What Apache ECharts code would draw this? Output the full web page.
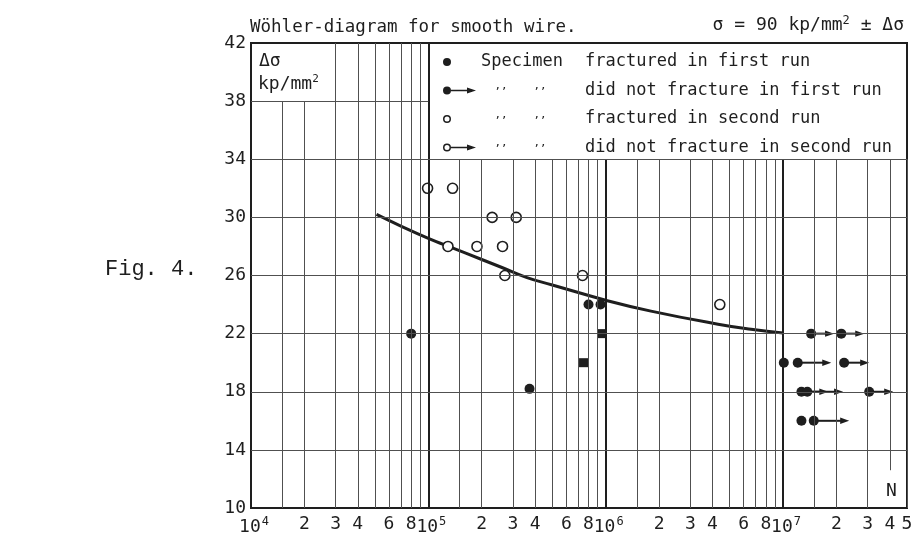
<!DOCTYPE html>
<html>
<head>
<meta charset="utf-8">
<title>Wöhler-diagram</title>
<script src="https://cdn.jsdelivr.net/npm/echarts@6/dist/echarts.min.js"></script>
</head>
<body style="margin:0;background:#fff;">
<div id="container" style="width:917px;height:536px;"></div>
<script type="text/javascript">
// values: N (load cycles), delta sigma (kp/mm2)
var fracturedFirst = [[8.0e4, 22], [3.72e5, 18.2], [8.0e5, 24], [9.35e5, 24]];
var fracturedFirstSq = [[9.5e5, 22], [7.5e5, 20]];
var runoutFirst = [[1.44e7, 22], [2.13e7, 22], [1.01e7, 20], [1.21e7, 20], [2.21e7, 20],
                   [1.27e7, 18], [1.37e7, 18], [3.06e7, 18], [1.27e7, 16], [1.49e7, 16]];
// arrow = [N of specimen, stress, N at arrow tip]
var runoutArrows = [[1.44e7, 22, 1.94e7], [2.13e7, 22, 2.87e7], [1.21e7, 20, 1.87e7], [2.21e7, 20, 3.06e7],
                    [1.27e7, 18, 1.8e7], [1.37e7, 18, 2.18e7], [3.06e7, 18, 4.18e7], [1.49e7, 16, 2.36e7]];
var fracturedSecond = [[9.9e4, 32], [1.37e5, 32], [1.29e5, 28], [1.88e5, 28], [2.62e5, 28],
                       [2.29e5, 30], [3.13e5, 30], [2.7e5, 26], [7.4e5, 26], [4.4e6, 24]];
var curve = [[5.1e4, 30.2], [7e4, 29.4], [1e5, 28.55], [1.3e5, 28.0], [2e5, 27.1], [2.6e5, 26.55],
             [3.6e5, 25.85], [5e5, 25.35], [1e6, 24.3], [1.8e6, 23.55], [4.3e6, 22.65], [6.6e6, 22.3], [1e7, 22.05]];
var decades = [1e4, 1e5, 1e6, 1e7];
var minorSteps = [1, 1.5, 2, 3, 4, 5, 6, 7, 8, 9];
var labelledSteps = [2, 3, 4, 6, 8];
var yLines = [14, 18, 22, 26, 30, 34, 38];
var nMin = 1e4, nMax = 5e7;

var FONT = 'DejaVu Sans Mono';
var INK = '#1e1e1e';
var GRIDC = '#505050';

// grid lines of the log paper (they stop at the legend box and the unit box)
var gridLines = [];
decades.forEach(function (d) {
  minorSteps.forEach(function (m) {
    var x = m * d;
    if (x <= nMin || x > nMax) return;
    var top = x <= 2e4 ? 38 : (x <= 1e5 ? 42 : 34);
    var showLabel = (labelledSteps.indexOf(m) >= 0 || x === nMax) && m !== 1;
    var style = { width: m === 1 ? 2 : 1, color: m === 1 ? INK : GRIDC };
    if (x === 4e7) {
      // this line leaves room for the "N" near the bottom
      gridLines.push([{ coord: [x, 10], lineStyle: { width: 0, color: 'rgba(0,0,0,0)' },
                        label: { show: true, formatter: String(m), color: INK } }, { coord: [x, 12.6] }]);
      gridLines.push([{ coord: [x, 12.6], lineStyle: style, label: { show: false } }, { coord: [x, top] }]);
      return;
    }
    gridLines.push([{
      coord: [x, 10], lineStyle: style,
      label: { show: showLabel, formatter: String(m) }
    }, { coord: [x, top] }]);
  });
});
yLines.forEach(function (y) {
  gridLines.push([{ coord: [nMin, y], label: { show: false } }, { coord: [y === 38 ? 1e5 : nMax, y] }]);
});

var ring = 'M1,5a4,4 0 1,0 8,0a4,4 0 1,0 -8,0z M2.5,5a2.5,2.5 0 1,1 5,0a2.5,2.5 0 1,1 -5,0z';
var dot = 'M1,5a4,4 0 1,0 8,0a4,4 0 1,0 -8,0z';
var arrow = ' M9,4.3L25,4.3L25,2L34,5L25,8L25,5.7L9,5.7z';
var anchors = ' M0,0L0.01,0L0,0.01z M34,10L33.99,10L34,9.99z';

var legendText = {
  'fractured in first run': '{a|Specimen}{t|fractured in first run}'
};
function legendFormat(name) {
  return legendText[name] || '{d|,,}{e|,,}{t|' + name + '}';
}

function renderArrow(params, api) {
  var a = api.coord([api.value(0), api.value(1)]);
  var b = api.coord([api.value(2), api.value(1)]);
  var head = 9;
  return {
    type: 'group',
    children: [
      { type: 'line', shape: { x1: a[0] + 3, y1: a[1], x2: b[0] - head + 1, y2: b[1] }, style: { stroke: INK, lineWidth: 2 } },
      { type: 'polygon', shape: { points: [[b[0], b[1]], [b[0] - head, b[1] - 3.2], [b[0] - head, b[1] + 3.2]] }, style: { fill: INK } }
    ]
  };
}

var iconStyle = { color: INK, borderWidth: 0, opacity: 1 };

var myChart = echarts.init(document.getElementById('container'));
myChart.setOption({
  animation: false,
  grid: {
    left: 251, top: 43, right: 10, bottom: 28, containLabel: false, outerBoundsMode: 'none',
    show: true, borderColor: INK, borderWidth: 2, backgroundColor: 'transparent'
  },
  xAxis: {
    type: 'log', logBase: 10, min: nMin, max: nMax,
    axisLine: { show: false }, axisTick: { show: false }, splitLine: { show: false },
    axisLabel: {
      margin: 8, color: INK, showMaxLabel: false,
      formatter: function (v) { return '{b|10}{s|' + Math.round(Math.log10(v)) + '}'; },
      rich: {
        b: { fontFamily: FONT, fontSize: 18, color: INK, padding: [0, 0, 0, 6] },
        s: { fontFamily: FONT, fontSize: 12, color: INK, padding: [0, 0, 10, 1] }
      }
    }
  },
  yAxis: {
    type: 'value', min: 10, max: 42, interval: 4,
    axisLine: { show: false }, axisTick: { show: false }, splitLine: { show: false },
    axisLabel: { fontFamily: FONT, fontSize: 18, color: INK, margin: 5 }
  },
  legend: {
    orient: 'vertical', left: 442, top: 53, padding: 0,
    itemWidth: 34, itemHeight: 10, itemGap: 10, selectedMode: false,
    formatter: legendFormat,
    textStyle: {
      fontFamily: FONT, fontSize: 17, color: INK, lineHeight: 18,
      rich: {
        a: { fontFamily: FONT, fontSize: 17, color: INK, width: 104 },
        t: { fontFamily: FONT, fontSize: 17, color: INK },
        d: { fontFamily: FONT, fontSize: 11, color: INK, width: 40, align: 'center', padding: [0, 0, 8, 0] },
        e: { fontFamily: FONT, fontSize: 11, color: INK, width: 38, align: 'center', padding: [0, 26, 8, 0] }
      }
    },
    data: [
      { name: 'fractured in first run', icon: 'path://' + dot + anchors, itemStyle: iconStyle },
      { name: 'did not fracture in first run', icon: 'path://' + dot + arrow + anchors, itemStyle: iconStyle },
      { name: 'fractured in second run', icon: 'path://' + ring + anchors, itemStyle: iconStyle },
      { name: 'did not fracture in second run', icon: 'path://' + ring + arrow + anchors, itemStyle: iconStyle }
    ]
  },
  graphic: [
    { type: 'text', left: 250, top: 18, style: { text: 'Wöhler-diagram for smooth wire.', font: '17.5px "DejaVu Sans Mono"', fill: INK } },
    { type: 'text', right: 13, top: 15, style: {
        text: '{t|σ = 90 kp/mm}{s|2}{t| ± Δσ}',
        rich: { t: { font: '18px "DejaVu Sans Mono"', fill: INK }, s: { font: '12px "DejaVu Sans Mono"', fill: INK, padding: [0, 0, 9, 0] } } } },
    { type: 'text', left: 259, top: 52, style: { text: 'Δσ', font: '18px "DejaVu Sans Mono"', fill: INK } },
    { type: 'text', left: 258, top: 74, style: {
        text: '{t|kp/mm}{s|2}',
        rich: { t: { font: '18px "DejaVu Sans Mono"', fill: INK }, s: { font: '11px "DejaVu Sans Mono"', fill: INK, padding: [0, 0, 9, 0] } } } },
    { type: 'text', left: 886, top: 482, style: { text: 'N', font: '18px "DejaVu Sans Mono"', fill: INK } },
    { type: 'text', left: 105, top: 258, style: { text: 'Fig. 4.', font: '22px "Liberation Mono"', fill: INK } }
  ],
  series: [
    {
      name: 'paper', type: 'line', data: [], z: 1, silent: true,
      markLine: {
        silent: true, symbol: ['none', 'none'], animation: false,
        lineStyle: { type: 'solid', width: 1, color: GRIDC },
        label: { position: 'start', distance: 7, fontFamily: FONT, fontSize: 18, color: INK },
        emphasis: { disabled: true },
        data: gridLines
      }
    },
    {
      name: 'Wöhler curve', type: 'line', data: curve, smooth: 0.5, showSymbol: false, z: 2, silent: true,
      lineStyle: { width: 3, color: INK }
    },
    {
      name: 'fractured in first run', type: 'scatter', data: fracturedFirst, z: 3,
      symbol: 'circle', symbolSize: 10, itemStyle: { color: INK, opacity: 1 }
    },
    {
      name: 'fractured in first run', type: 'scatter', data: fracturedFirstSq, z: 3,
      symbol: 'rect', symbolSize: 9, itemStyle: { color: INK, opacity: 1 }
    },
    {
      name: 'did not fracture in first run', type: 'scatter', data: runoutFirst, z: 3,
      symbol: 'circle', symbolSize: 10, itemStyle: { color: INK, opacity: 1 }
    },
    {
      name: 'did not fracture in first run', type: 'custom', data: runoutArrows, z: 3,
      renderItem: renderArrow, encode: { x: 0, y: 1 }, itemStyle: { color: INK, opacity: 1 }
    },
    {
      name: 'fractured in second run', type: 'scatter', data: fracturedSecond, z: 3,
      symbol: 'circle', symbolSize: 10, itemStyle: { color: '#fff', borderColor: INK, borderWidth: 1.6, opacity: 1 }
    },
    {
      name: 'did not fracture in second run', type: 'scatter', data: [], z: 3,
      symbol: 'circle', symbolSize: 10, itemStyle: { color: '#fff', borderColor: INK, borderWidth: 1.6, opacity: 1 }
    }
  ]
});
</script>
</body>
</html>
